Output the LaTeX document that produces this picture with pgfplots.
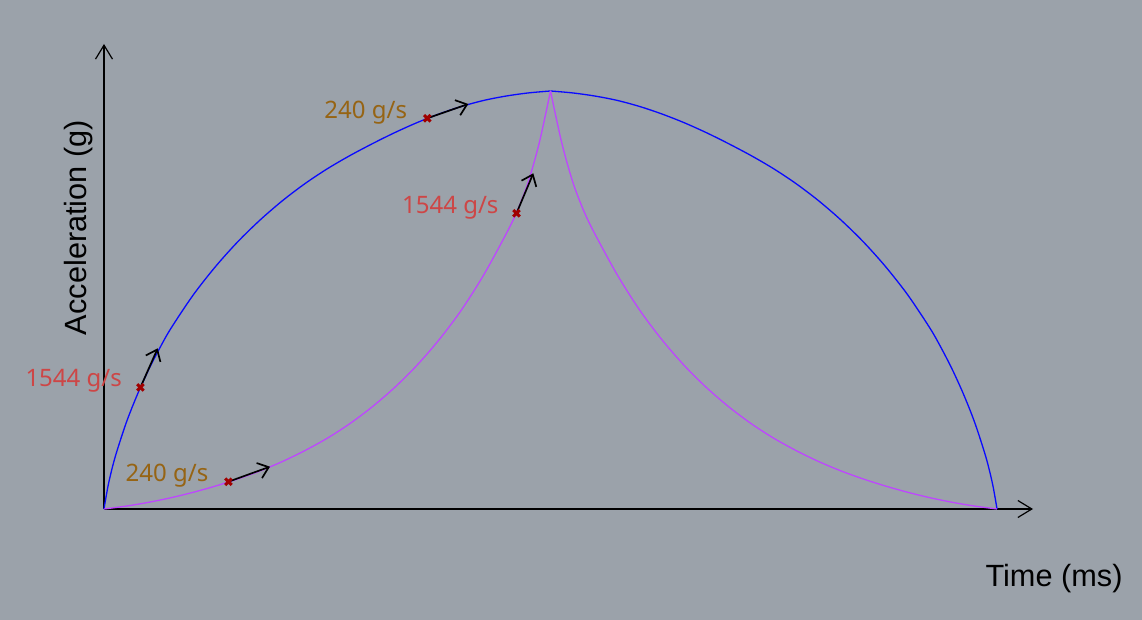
\documentclass[border=0pt]{standalone}
\usepackage{fontspec}
\setmainfont{Liberation Sans}
\newfontfamily\annotfont{Noto Sans}
\usepackage{pgfplots}
\pgfplotsset{compat=1.18}
\usetikzlibrary{arrows.meta}
\definecolor{bg}{RGB}{155,162,170}
\definecolor{bluec}{RGB}{10,10,255}
\definecolor{purplec}{RGB}{190,70,255}
\definecolor{mk}{RGB}{160,0,0}
\definecolor{redtxt}{RGB}{205,70,70}
\definecolor{browntxt}{RGB}{150,100,20}
\begin{document}
\begin{tikzpicture}
\path[use as bounding box, fill=bg] (0,0) rectangle (1142bp,620bp);
\begin{axis}[
  at={(104bp,111bp)}, anchor=south west,
  scale only axis, width=929bp, height=465bp,
  xmin=0, xmax=2.0806, ymin=0, ymax=1.1124,
  axis lines=left, enlargelimits=false,
  xtick=\empty, ytick=\empty,
  axis line style={black, line width=1.2bp, -{Straight Barb[length=14bp,width=17bp,line width=1.2bp]}},
  clip=false,
]
% blue curve
\addplot[bluec, line width=1.3bp, smooth, line join=round] coordinates {
(0,0) (0.01,0.060) (0.025,0.1245) (0.05,0.207) (0.075,0.2745) (0.1,0.3333) (0.125,0.3853) (0.15,0.4323) (0.2,0.5123) (0.25,0.5803) (0.3,0.6398) (0.35,0.6918) (0.4,0.7378) (0.45,0.7783) (0.5,0.8138) (0.55,0.8450) (0.6,0.8733) (0.65,0.8998) (0.7,0.9238) (0.75,0.9448) (0.8,0.9628) (0.85,0.9773) (0.9,0.9878) (0.95,0.9953) (1,1)};
\addplot[bluec, line width=1.3bp, smooth, line join=round] coordinates {
(1,1) (1.05,0.9953) (1.1,0.9878) (1.15,0.9773) (1.2,0.9628) (1.25,0.9448) (1.3,0.9238) (1.35,0.8998) (1.4,0.8733) (1.45,0.8450) (1.5,0.8138) (1.55,0.7783) (1.6,0.7378) (1.65,0.6918) (1.7,0.6398) (1.75,0.5803) (1.8,0.5123) (1.85,0.4323) (1.875,0.3853) (1.9,0.3333) (1.925,0.2745) (1.95,0.207) (1.975,0.1245) (1.99,0.060) (2,0)};
% purple curve
\addplot[purplec, line width=1.3bp, smooth, line join=round] coordinates {
(0,0) (0.05,0.007) (0.1,0.016) (0.15,0.027) (0.2,0.040) (0.25,0.055) (0.3,0.072) (0.35,0.0913) (0.4,0.1138) (0.45,0.1398) (0.5,0.1693) (0.55,0.2038) (0.6,0.2438) (0.65,0.2898) (0.7,0.3428) (0.75,0.4043) (0.8,0.4753) (0.85,0.5593) (0.9,0.6568) (0.925,0.7118) (0.95,0.7818) (0.975,0.8768) (1,1)};
\addplot[purplec, line width=1.3bp, smooth, line join=round] coordinates {
(1,1) (1.025,0.8768) (1.05,0.7818) (1.075,0.7118) (1.1,0.6568) (1.15,0.5593) (1.2,0.4753) (1.25,0.4043) (1.3,0.3428) (1.35,0.2898) (1.4,0.2438) (1.45,0.2038) (1.5,0.1693) (1.55,0.1398) (1.6,0.1138) (1.65,0.0913) (1.7,0.072) (1.75,0.055) (1.8,0.040) (1.85,0.027) (1.9,0.016) (1.95,0.007) (2,0)};
% tangent arrows
\addplot[black, line width=1.7bp, -{Straight Barb[length=10bp,width=16bp,line width=1.7bp]}] coordinates {(0.0816,0.291) (0.1203,0.3844)};
\addplot[black, line width=1.7bp, -{Straight Barb[length=10bp,width=16bp,line width=1.7bp]}] coordinates {(0.724,0.9347) (0.8159,0.9689)};
\addplot[black, line width=1.7bp, -{Straight Barb[length=10bp,width=16bp,line width=1.7bp]}] coordinates {(0.2787,0.0653) (0.3718,0.1012)};
\addplot[black, line width=1.7bp, -{Straight Barb[length=10bp,width=16bp,line width=1.7bp]}] coordinates {(0.9238,0.7074) (0.9615,0.8031)};
% markers
\addplot[only marks, mark=x, mark size=4.6bp, color=mk, line width=3bp] coordinates {(0.0816,0.291) (0.724,0.9347) (0.2787,0.0653) (0.9238,0.7074)};
% annotations
\node[anchor=base, text=redtxt, font=\annotfont\fontsize{24bp}{28bp}\selectfont] at (axis cs:-0.0679,0.2926) {1544 g/s};
\node[anchor=base, text=browntxt, font=\annotfont\fontsize{24bp}{28bp}\selectfont] at (axis cs:0.1411,0.0653) {240 g/s};
\node[anchor=base, text=browntxt, font=\annotfont\fontsize{24bp}{28bp}\selectfont] at (axis cs:0.5863,0.9347) {240 g/s};
\node[anchor=base, text=redtxt, font=\annotfont\fontsize{24bp}{28bp}\selectfont] at (axis cs:0.7756,0.7074) {1544 g/s};
% axis labels
\node[anchor=base, font=\fontsize{30.7bp}{36bp}\selectfont] at (axis cs:2.1277,-0.1859) {Time (ms)};
\node[anchor=base, rotate=90, font=\fontsize{30.7bp}{36bp}\selectfont] at (axis cs:-0.0387,0.6734) {Acceleration (g)};
\end{axis}
\end{tikzpicture}
\end{document}
